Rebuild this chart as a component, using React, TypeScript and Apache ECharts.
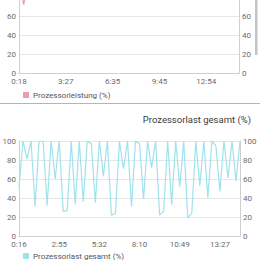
import React, { useEffect, useRef } from "react";
import * as echarts from "echarts";

const topName = "Prozessorleistung (%)";
const bottomName = "Prozessorlast gesamt (%)";
const topTickLabels = ["0:18", "3:27", "6:35", "9:45", "12:54"];
const bottomTickLabels = ["0:16", "2:55", "5:32", "8:10", "10:49", "13:27"];
const yTicks = [0, 20, 40, 60, 80, 100];
const topVisibleMax = 60;

const topValues = [
  100, 72, 100, 100, 100, 100, 100, 100, 100, 100, 100, 100, 100, 100, 100, 100,
  100, 100, 100, 100, 100, 100, 100, 100, 100, 100, 100, 100, 100, 100, 100, 100,
  100, 100, 100, 100, 100, 100, 100, 100, 100, 100, 100, 100, 100, 100, 100, 100,
];

const bottomValues = [
  52, 100, 81, 100, 31, 100, 100, 32, 100, 60, 100, 26, 27, 100, 33, 100, 36, 100,
  97, 35, 100, 63, 100, 22, 24, 100, 71, 100, 31, 100, 97, 39, 100, 72, 100, 22,
  26, 100, 33, 100, 52, 100, 19, 24, 100, 53, 100, 40, 100, 95, 47, 100, 61, 100,
  58, 100,
];

const PINK = "#f09aae";
const CYAN = "#9fe2ee";
const LABEL = "#6b6b6b";
const AXIS = "#cfcfcf";
const GRID = "#e6e6e6";

function makeY(gridIndex: number, position: "left" | "right", grid: boolean, labelMax: number) {
  return {
    type: "value",
    gridIndex,
    position,
    min: yTicks[0],
    max: yTicks[yTicks.length - 1],
    interval: 20,
    axisLine: { show: true, lineStyle: { color: AXIS, width: 1 } },
    axisTick: { show: false },
    axisLabel: {
      color: LABEL,
      fontSize: 8,
      margin: 3,
      fontFamily: "Roboto",
      formatter: (v: number) => (v <= labelMax ? String(v) : ""),
    },
    splitLine: { show: grid, lineStyle: { color: GRID, width: 1 } },
  };
}

function makeX(gridIndex: number, max: number, labels: string[]) {
  return {
    type: "value",
    gridIndex,
    min: 0,
    max,
    interval: 10,
    axisLine: { show: true, onZero: false, lineStyle: { color: AXIS, width: 1 } },
    axisTick: { show: false },
    splitLine: { show: false },
    axisLabel: {
      color: LABEL,
      fontSize: 8,
      margin: 4,
      fontFamily: "Roboto",
      showMaxLabel: false,
      formatter: (v: number) => labels[Math.round(v / 10)] ?? "",
    },
  };
}

export default function App() {
  const ref = useRef<HTMLDivElement>(null);
  useEffect(() => {
    if (!ref.current) return;
    const chart = echarts.init(ref.current, undefined, { renderer: "svg" });
    chart.setOption({
      animation: false,
      backgroundColor: "#ffffff",
      textStyle: { fontFamily: "Roboto" },
      title: {
        text: bottomName,
        right: 4,
        top: 109,
        textStyle: { fontSize: 9.5, fontWeight: "normal", color: "#3c3c3c", fontFamily: "Roboto" },
      },
      legend: [
        {
          data: [topName],
          left: 23,
          top: 91,
          icon: "rect",
          itemWidth: 6,
          itemHeight: 6,
          padding: 0,
          textStyle: { fontSize: 8, color: "#555", fontFamily: "Roboto", padding: [0, 0, 0, -1] },
        },
        {
          data: [bottomName],
          left: 23,
          top: 252,
          icon: "rect",
          itemWidth: 6,
          itemHeight: 6,
          padding: 0,
          textStyle: { fontSize: 8, color: "#555", fontFamily: "Roboto", padding: [0, 0, 0, -1] },
        },
      ],
      grid: [
        { left: 19, right: 21, top: -22, height: 95, containLabel: false, outerBoundsMode: "none" },
        { left: 19, right: 20, top: 141, height: 95, containLabel: false, outerBoundsMode: "none" },
      ],
      xAxis: [makeX(0, topValues.length - 1, topTickLabels), makeX(1, bottomValues.length - 1, bottomTickLabels)],
      yAxis: [
        makeY(0, "left", true, topVisibleMax),
        makeY(0, "right", false, topVisibleMax),
        makeY(1, "left", true, 100),
        makeY(1, "right", false, 100),
      ],
      series: [
        {
          name: topName,
          type: "line",
          xAxisIndex: 0,
          yAxisIndex: 0,
          data: topValues.map((v, i) => [i, v]),
          showSymbol: false,
          symbol: "none",
          color: PINK,
          lineStyle: { color: PINK, width: 1.2 },
        },
        {
          name: bottomName,
          type: "line",
          xAxisIndex: 1,
          yAxisIndex: 2,
          data: bottomValues.map((v, i) => [i, v]),
          showSymbol: false,
          symbol: "none",
          color: CYAN,
          lineStyle: { color: CYAN, width: 1.2 },
        },
      ],
      graphic: [
        {
          type: "line",
          shape: { x1: 0, y1: 103.5, x2: 260, y2: 103.5 },
          style: { stroke: "#b5b5b5", lineWidth: 1 },
        },
        {
          type: "rect",
          shape: { x: 255, y: 0, width: 2.5, height: 55 },
          style: { fill: "#c4c4c4" },
        },
      ],
    });
    return () => chart.dispose();
  }, []);
  return (
    <div
      ref={ref}
      style={{ position: "absolute", left: 0, top: 0, width: 260, height: 260, background: "#fff" }}
    />
  );
}
